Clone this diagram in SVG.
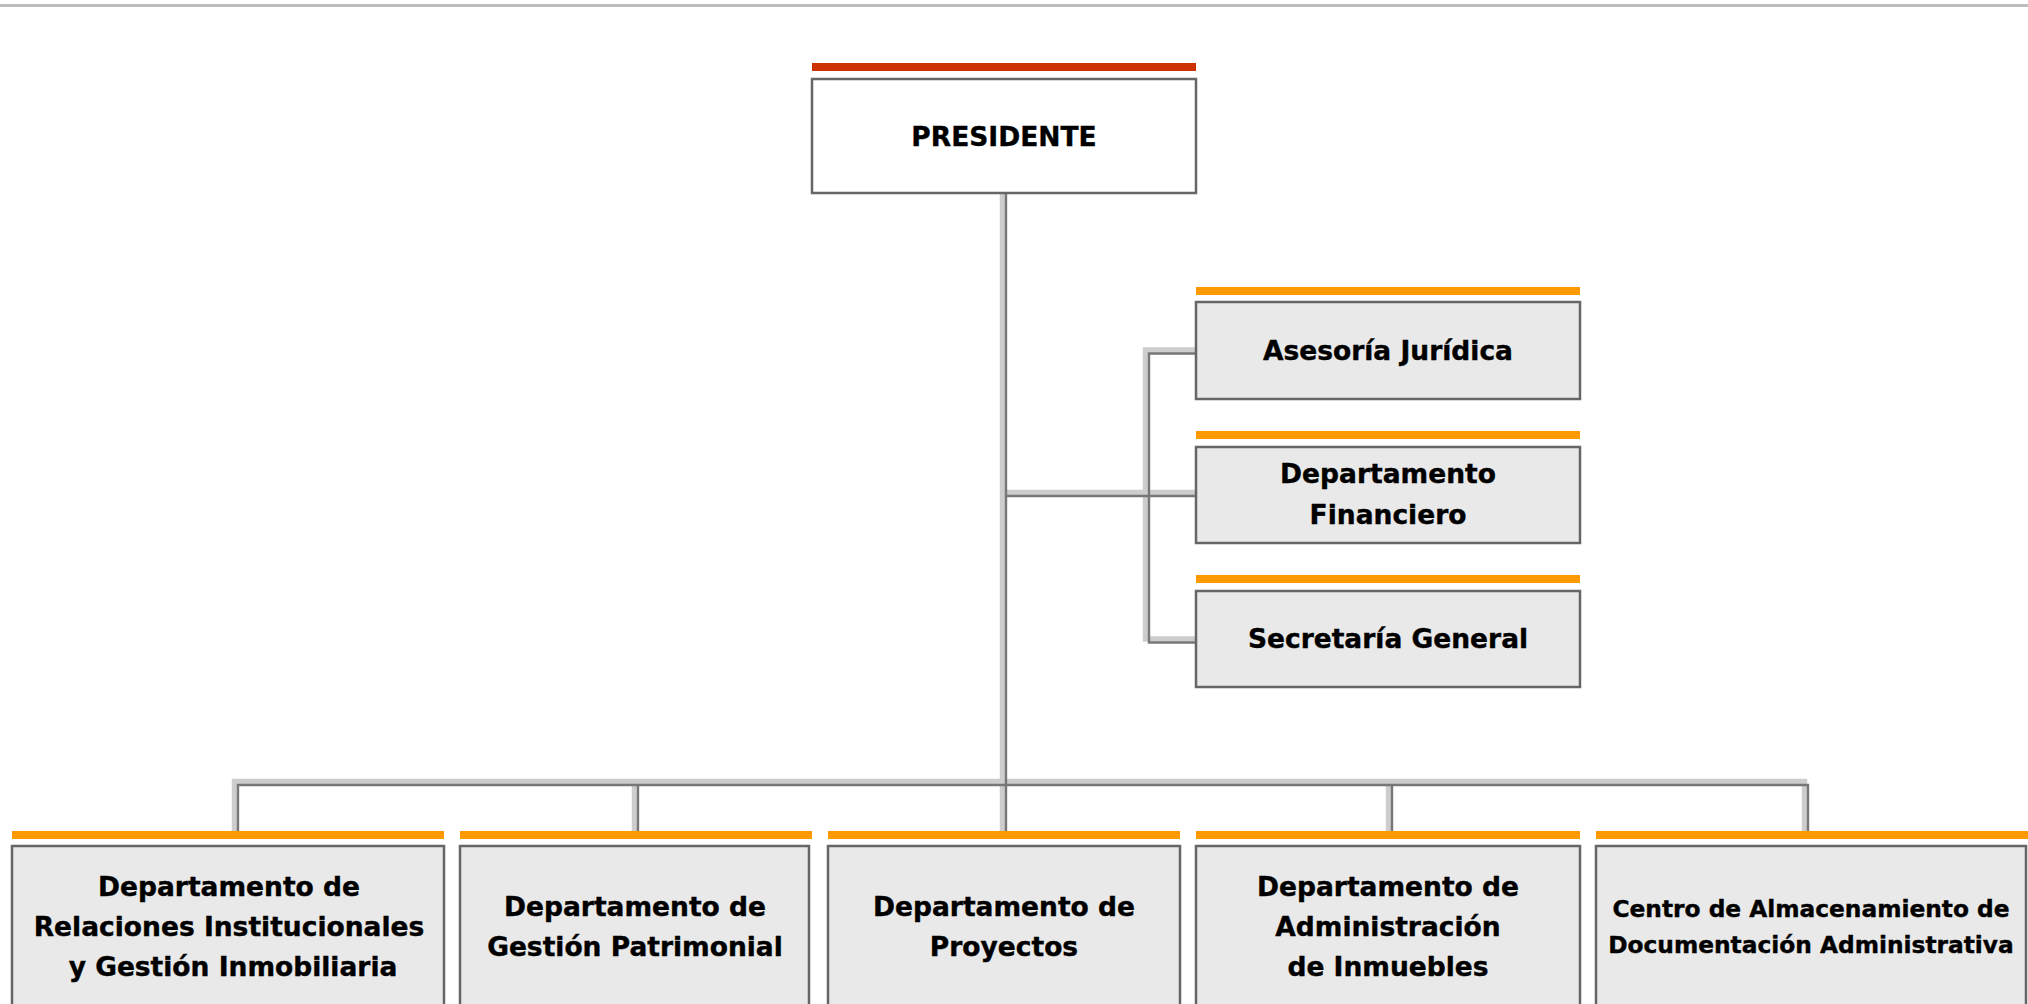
<svg xmlns="http://www.w3.org/2000/svg" width="2028" height="1004" viewBox="0 0 2028 1004">
<defs>
<style>
.box{fill:#e9e9e9;stroke:#666;stroke-width:2.5}
.pbox{fill:#fff;stroke:#666;stroke-width:2.5}
.bar{fill:#ff9900}
.rbar{fill:#cc3300}
.t{font-family:"DejaVu Sans","Verdana",sans-serif;font-weight:bold;font-size:26.5px;fill:#000;stroke:#000;stroke-width:0.4;text-anchor:middle}
.ts{font-size:23.3px}
.lite{fill:none;stroke:#cdcdcd;stroke-width:5.5}
.dark{fill:none;stroke:#777;stroke-width:2.4}
</style>
</defs>
<rect width="2028" height="1004" fill="#fff"/>
<rect x="0" y="4" width="2028" height="3" fill="#bdbdbd"/>

<g id="connectors">
  <g class="lite">
    <path d="M1002.5 190 V831"/>
    <path d="M1002.5 492.5 H1196"/>
    <path d="M1196 350 H1145.5 V639 H1196"/>
    <path d="M234.5 831 V781.5 H1804.5 V831"/>
    <path d="M634.5 781.5 V831"/>
    <path d="M1388.5 781.5 V831"/>
  </g>
  <g class="dark" transform="translate(3.5,3.5)">
    <path d="M1002.5 189.5 V827.5"/>
    <path d="M1002.5 492.5 H1192.5"/>
    <path d="M1192.5 350 H1145.5 V639 H1192.5"/>
    <path d="M234.5 827.5 V781.5 H1804.5 V827.5"/>
    <path d="M634.5 781.5 V827.5"/>
    <path d="M1388.5 781.5 V827.5"/>
  </g>
</g>

<g id="presidente">
  <rect class="rbar" x="812" y="63" width="384" height="8"/>
  <rect class="pbox" x="812" y="79" width="384" height="114"/>
  <text class="t" x="1004" y="146">PRESIDENTE</text>
</g>

<g id="asesoria">
  <rect class="bar" x="1196" y="287" width="384" height="8"/>
  <rect class="box" x="1196" y="302" width="384" height="97"/>
  <text class="t" x="1388" y="360">Asesoría Jurídica</text>
</g>

<g id="financiero">
  <rect class="bar" x="1196" y="431" width="384" height="8"/>
  <rect class="box" x="1196" y="447" width="384" height="96"/>
  <text class="t" x="1388" y="483">Departamento</text>
  <text class="t" x="1388" y="524">Financiero</text>
</g>

<g id="secretaria">
  <rect class="bar" x="1196" y="575" width="384" height="8"/>
  <rect class="box" x="1196" y="591" width="384" height="96"/>
  <text class="t" x="1388" y="648">Secretaría General</text>
</g>

<g id="relaciones">
  <rect class="bar" x="12" y="831" width="432" height="8"/>
  <rect class="box" x="12" y="846" width="432" height="170"/>
  <text class="t" x="229" y="896">Departamento de</text>
  <text class="t" x="229" y="936">Relaciones Institucionales</text>
  <text class="t" x="233" y="976">y Gestión Inmobiliaria</text>
</g>

<g id="patrimonial">
  <rect class="bar" x="460" y="831" width="352" height="8"/>
  <rect class="box" x="460" y="846" width="349" height="170"/>
  <text class="t" x="635" y="916">Departamento de</text>
  <text class="t" x="635" y="956">Gestión Patrimonial</text>
</g>

<g id="proyectos">
  <rect class="bar" x="828" y="831" width="352" height="8"/>
  <rect class="box" x="828" y="846" width="352" height="170"/>
  <text class="t" x="1004" y="916">Departamento de</text>
  <text class="t" x="1004" y="956">Proyectos</text>
</g>

<g id="inmuebles">
  <rect class="bar" x="1196" y="831" width="384" height="8"/>
  <rect class="box" x="1196" y="846" width="384" height="170"/>
  <text class="t" x="1388" y="896">Departamento de</text>
  <text class="t" x="1388" y="936">Administración</text>
  <text class="t" x="1388" y="976">de Inmuebles</text>
</g>

<g id="almacenamiento">
  <rect class="bar" x="1596" y="831" width="432" height="8"/>
  <rect class="box" x="1596" y="846" width="430" height="170"/>
  <text class="t ts" x="1811" y="917">Centro de Almacenamiento de</text>
  <text class="t ts" x="1811" y="953">Documentación Administrativa</text>
</g>
</svg>
